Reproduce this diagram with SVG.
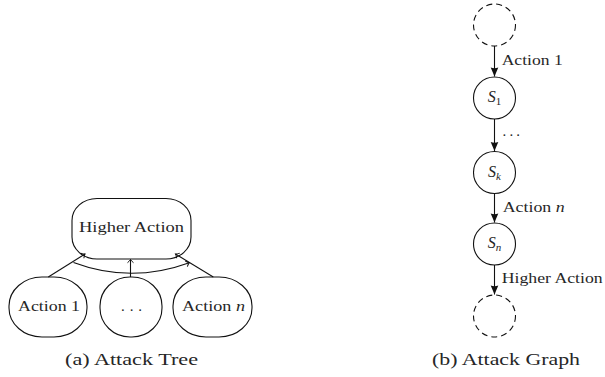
<svg xmlns="http://www.w3.org/2000/svg" width="605" height="377" viewBox="0 0 605 377">
<style>
  text { font-family: "Liberation Serif", "Times New Roman", serif; fill: #262626; }
  .lbl { font-size: 15px; }
  .cap { font-size: 17.5px; }
  .it { font-style: italic; }
  .s { font-size: 16px; font-style: italic; }
  .sub { font-size: 11px; }
  .node { fill: #fff; stroke: #111; stroke-width: 1.1; }
  .dash { fill: none; stroke: #111; stroke-width: 1.1; stroke-dasharray: 6 4; }
  .edge { fill: none; stroke: #111; stroke-width: 1.1; }
</style>
<defs>
  <marker id="open" markerUnits="userSpaceOnUse" markerWidth="10" markerHeight="10" refX="0" refY="0" viewBox="-5 -5 10 10" orient="auto">
    <path d="M-3.2,-3 Q-1.2,-0.6 0,0 Q-1.2,0.6 -3.2,3" fill="none" stroke="#111" stroke-width="1"/>
  </marker>
  <marker id="latex" markerUnits="userSpaceOnUse" markerWidth="12" markerHeight="12" refX="0" refY="0" viewBox="-10 -6 12 12" orient="auto">
    <path d="M0,0 L-9,-3.8 Q-7.4,0 -9,3.8 Z" fill="#111"/>
  </marker>
</defs>

<!-- (a) Attack Tree -->
<g id="tree-higher">
  <rect class="node" x="72" y="198.5" width="119" height="60.5" rx="25" ry="22"/>
  <text class="lbl" x="131.5" y="232" text-anchor="middle" textLength="105" lengthAdjust="spacingAndGlyphs">Higher Action</text>
</g>
<g id="tree-action1">
  <rect class="node" x="9" y="277" width="78" height="60" rx="33" ry="29"/>
  <text class="lbl" x="49" y="310.5" text-anchor="middle" textLength="62" lengthAdjust="spacingAndGlyphs">Action 1</text>
</g>
<g id="tree-dots">
  <rect class="node" x="100" y="277" width="62" height="60" rx="30" ry="29"/>
  <text class="lbl" x="131.5" y="310.5" text-anchor="middle" textLength="21" lengthAdjust="spacing">. . .</text>
</g>
<g id="tree-actionn">
  <rect class="node" x="173" y="277" width="79" height="60" rx="33" ry="29"/>
  <text class="lbl" x="213.5" y="310.5" text-anchor="middle" textLength="63" lengthAdjust="spacingAndGlyphs">Action <tspan class="it">n</tspan></text>
</g>
<g id="tree-edges">
  <line class="edge" x1="48.3" y1="277" x2="85" y2="254" marker-end="url(#open)"/>
  <line class="edge" x1="130.5" y1="277" x2="130.5" y2="259.5" marker-end="url(#open)"/>
  <line class="edge" x1="213.3" y1="277" x2="175.5" y2="254" marker-end="url(#open)"/>
  <path class="edge" d="M73.5,262.5 Q131,284 189.3,262.7" marker-end="url(#open)"/>
</g>
<text class="cap" x="131.5" y="365" text-anchor="middle" textLength="133" lengthAdjust="spacingAndGlyphs">(a) Attack Tree</text>

<!-- (b) Attack Graph -->
<g id="graph-start">
  <circle class="dash" cx="494.5" cy="25" r="21"/>
</g>
<g id="graph-s1">
  <circle class="node" cx="494.5" cy="98" r="21"/>
  <text x="494.5" y="102" text-anchor="middle"><tspan class="s">S</tspan><tspan class="sub" dy="3">1</tspan></text>
</g>
<g id="graph-sk">
  <circle class="node" cx="494.5" cy="172.5" r="21"/>
  <text x="494.5" y="176.5" text-anchor="middle"><tspan class="s">S</tspan><tspan class="sub it" dy="3">k</tspan></text>
</g>
<g id="graph-sn">
  <circle class="node" cx="494.5" cy="244" r="21"/>
  <text x="494.5" y="248" text-anchor="middle"><tspan class="s">S</tspan><tspan class="sub it" dy="3">n</tspan></text>
</g>
<g id="graph-end">
  <circle class="dash" cx="494.5" cy="316" r="21"/>
</g>
<g id="graph-edges">
  <line class="edge" x1="494.5" y1="46" x2="494.5" y2="76.5" marker-end="url(#latex)"/>
  <line class="edge" x1="494.5" y1="119" x2="494.5" y2="151" marker-end="url(#latex)"/>
  <line class="edge" x1="494.5" y1="193.5" x2="494.5" y2="222.5" marker-end="url(#latex)"/>
  <line class="edge" x1="494.5" y1="265" x2="494.5" y2="294.5" marker-end="url(#latex)"/>
  <text class="lbl" x="501.7" y="65" textLength="61" lengthAdjust="spacingAndGlyphs">Action 1</text>
  <text class="lbl" x="502.5" y="135.5" textLength="17.5" lengthAdjust="spacing">. . .</text>
  <text class="lbl" x="502.7" y="211.5" textLength="62" lengthAdjust="spacingAndGlyphs">Action <tspan class="it">n</tspan></text>
  <text class="lbl" x="501.7" y="283.3" textLength="101" lengthAdjust="spacingAndGlyphs">Higher Action</text>
</g>
<text class="cap" x="506" y="364.5" text-anchor="middle" textLength="148" lengthAdjust="spacingAndGlyphs">(b) Attack Graph</text>
</svg>
